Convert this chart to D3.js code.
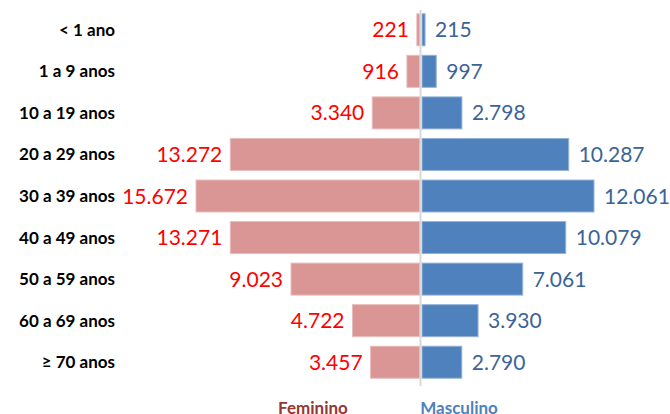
<!DOCTYPE html>
<html>
<head>
<meta charset="utf-8">
<script src="https://cdn.jsdelivr.net/npm/d3@7"></script>
<style>
  body { margin: 0; background: #fff; }
  text { font-family: Lato, "Open Sans", sans-serif; }
</style>
</head>
<body>
<script>
// data
var ageGroups = ["< 1 ano", "1 a 9 anos", "10 a 19 anos", "20 a 29 anos", "30 a 39 anos",
                 "40 a 49 anos", "50 a 59 anos", "60 a 69 anos", "\u2265 70 anos"];
var feminino = [221, 916, 3340, 13272, 15672, 13271, 9023, 4722, 3457];
var masculino = [215, 997, 2798, 10287, 12061, 10079, 7061, 3930, 2790];
var seriesNames = ["Feminino", "Masculino"];

// set up dimensions
var width = 670,
    height = 414,
    center = 420.5;

var svg = d3.select("body")
            .append("svg")
            .attr("width", width)
            .attr("height", height);

var fmt = d3.formatLocale({ decimal: ",", thousands: ".", grouping: [3], currency: ["", ""] }).format(",d");

// scales
var y = d3.scaleBand()
    .domain(ageGroups)
    .range([9, 383])
    .paddingInner(0.23)
    .paddingOuter(0.115);

var xLeft = d3.scaleLinear().domain([0, 15672]).range([center - 0.5, 196]);
var xRight = d3.scaleLinear().domain([0, 12061]).range([center + 1.5, 594]);

var rows = ageGroups.map(function(g, i) {
  return { group: g, fem: feminino[i], masc: masculino[i] };
});

// female bars
svg.append("g").selectAll("rect")
    .data(rows)
    .enter()
    .append("rect")
    .attr("x", function(d) { return xLeft(d.fem); })
    .attr("y", function(d) { return y(d.group); })
    .attr("width", function(d) { return xLeft(0) - xLeft(d.fem); })
    .attr("height", y.bandwidth())
    .style("fill", "#d99694")
    .style("stroke", "#e8bcbb")
    .style("stroke-width", 1);

// male bars
svg.append("g").selectAll("rect")
    .data(rows)
    .enter()
    .append("rect")
    .attr("x", xRight(0))
    .attr("y", function(d) { return y(d.group); })
    .attr("width", function(d) { return xRight(d.masc) - xRight(0); })
    .attr("height", y.bandwidth())
    .style("fill", "#4f81bd")
    .style("stroke", "#95b3d7")
    .style("stroke-width", 1);

// center line
svg.append("line")
    .attr("x1", center).attr("x2", center)
    .attr("y1", 10).attr("y2", 386)
    .style("stroke", "#d9d9d9")
    .style("stroke-width", 2);

// category labels
svg.append("g").selectAll("text")
    .data(rows)
    .enter()
    .append("text")
    .attr("x", 115)
    .attr("y", function(d) { return y(d.group) + y.bandwidth() / 2; })
    .attr("dy", ".35em")
    .attr("text-anchor", "end")
    .style("font-size", "17px")
    .style("font-weight", "bold")
    .style("fill", "#000")
    .text(function(d) { return d.group; });

// value labels
svg.append("g").selectAll("text")
    .data(rows)
    .enter()
    .append("text")
    .attr("x", function(d) { return xLeft(d.fem) - 8; })
    .attr("y", function(d) { return y(d.group) + y.bandwidth() / 2; })
    .attr("dy", ".36em")
    .attr("text-anchor", "end")
    .style("font-size", "21px")
    .style("fill", "#ff0000")
    .text(function(d) { return fmt(d.fem); });

svg.append("g").selectAll("text")
    .data(rows)
    .enter()
    .append("text")
    .attr("x", function(d) { return xRight(d.masc) + 10; })
    .attr("y", function(d) { return y(d.group) + y.bandwidth() / 2; })
    .attr("dy", ".36em")
    .attr("text-anchor", "start")
    .style("font-size", "21px")
    .style("fill", "#3c6398")
    .text(function(d) { return fmt(d.masc); });

// legend labels (cut by the bottom edge, as in the original)
svg.append("text")
    .attr("x", 313).attr("y", 414)
    .attr("text-anchor", "middle")
    .style("font-size", "17px")
    .style("font-weight", "bold")
    .style("fill", "#953735")
    .text(seriesNames[0]);

svg.append("text")
    .attr("x", 459).attr("y", 414)
    .attr("text-anchor", "middle")
    .style("font-size", "17px")
    .style("font-weight", "bold")
    .style("fill", "#4f81bd")
    .text(seriesNames[1]);
</script>
</body>
</html>
